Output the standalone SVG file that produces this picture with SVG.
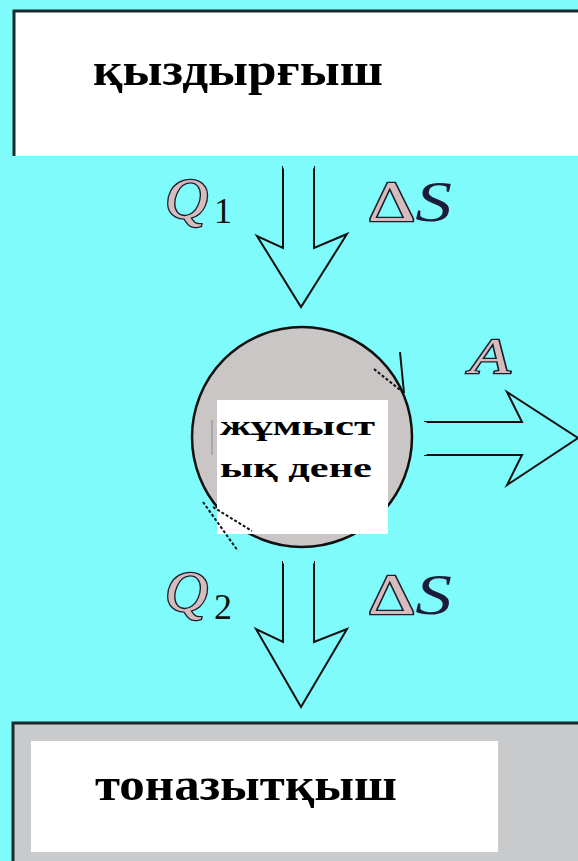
<svg xmlns="http://www.w3.org/2000/svg" width="578" height="861" viewBox="0 0 578 861">
<defs>
<style>
.box{font-family:"Liberation Serif","DejaVu Serif",serif;font-weight:900;fill:#000}
.math{font-family:"Liberation Serif","DejaVu Serif",serif;font-style:italic}
.mfill{fill:#d6bcbc;stroke:#1c1c2c;stroke-width:2.6;paint-order:stroke}
.sub{font-family:"Liberation Serif","DejaVu Serif",serif;fill:#111}
.arrow{fill:none;stroke:#111;stroke-width:2;stroke-linejoin:miter}
</style>
</defs>
<rect x="0" y="0" width="578" height="861" fill="#7ffbfb"/>

<g id="heater">
<rect x="14" y="11" width="570" height="145" fill="#ffffff"/>
<polyline points="14,156 14,11 578,11" fill="none" stroke="#1a2a2a" stroke-width="3"/>
<text class="box" x="93" y="85" font-size="46" textLength="290" lengthAdjust="spacingAndGlyphs">қыздырғыш</text>
</g>

<g id="cooler">
<rect x="13" y="723" width="570" height="140" fill="#c8cacc"/>
<rect x="31" y="741" width="467" height="111" fill="#ffffff"/>
<polyline points="13,861 13,723 578,723" fill="none" stroke="#1a2a2a" stroke-width="3"/>
<text class="box" x="95" y="800" font-size="46" textLength="302" lengthAdjust="spacingAndGlyphs">тоназытқыш</text>
</g>

<g id="body">
<circle cx="302" cy="437" r="110" fill="#cbc6c6" stroke="#111" stroke-width="2.5"/>
<rect x="217" y="400" width="171" height="134" fill="#ffffff"/>
<text class="box" x="220" y="435" font-size="28" textLength="155" lengthAdjust="spacingAndGlyphs">жұмыст</text>
<text class="box" x="220" y="477" font-size="28" textLength="152" lengthAdjust="spacingAndGlyphs">ық дене</text>
<line x1="212" y1="420" x2="212" y2="455" stroke="#888" stroke-width="1"/>
</g>

<g id="connectors">
<polygon class="arrow" points="283,167 283,248 257,236 301,307 347,234 314,248 314,167"/>
<line x1="283" y1="167" x2="314" y2="167" stroke="#7ffbfb" stroke-width="3"/>
<polygon class="arrow" points="283,562 283,642 256,629 301,707 347,629 314,642 314,562"/>
<line x1="283" y1="562" x2="314" y2="562" stroke="#7ffbfb" stroke-width="3"/>
<polygon class="arrow" points="425,422 522,422 507,392 578,438 507,485 522,455 425,455"/>
<line x1="425" y1="422" x2="425" y2="455" stroke="#7ffbfb" stroke-width="3"/>
<line x1="400" y1="352" x2="404" y2="393" stroke="#111" stroke-width="2"/>
<line x1="374" y1="369" x2="404" y2="393" stroke="#111" stroke-width="2" stroke-dasharray="3 2"/>
<line x1="203" y1="502" x2="238" y2="551" stroke="#111" stroke-width="2" stroke-dasharray="3 2"/>
<line x1="213" y1="507" x2="252" y2="531" stroke="#111" stroke-width="2" stroke-dasharray="3 2"/>
</g>

<g id="labels">
<text class="math mfill" x="165" y="218" font-size="58" textLength="43" lengthAdjust="spacingAndGlyphs">Q</text>
<text class="sub" x="214" y="223" font-size="36">1</text>
<text class="math" x="368" y="221" font-size="58" textLength="84" lengthAdjust="spacingAndGlyphs"><tspan class="mfill" font-style="normal">Δ</tspan><tspan fill="#1c1c3a">S</tspan></text>
<text class="math mfill" x="165" y="611" font-size="58" textLength="43" lengthAdjust="spacingAndGlyphs">Q</text>
<text class="sub" x="214" y="619" font-size="36">2</text>
<text class="math" x="368" y="614" font-size="58" textLength="84" lengthAdjust="spacingAndGlyphs"><tspan class="mfill" font-style="normal">Δ</tspan><tspan fill="#1c1c3a">S</tspan></text>
<text class="math mfill" x="470" y="373" font-size="50" textLength="40" lengthAdjust="spacingAndGlyphs">A</text>
</g>
</svg>
